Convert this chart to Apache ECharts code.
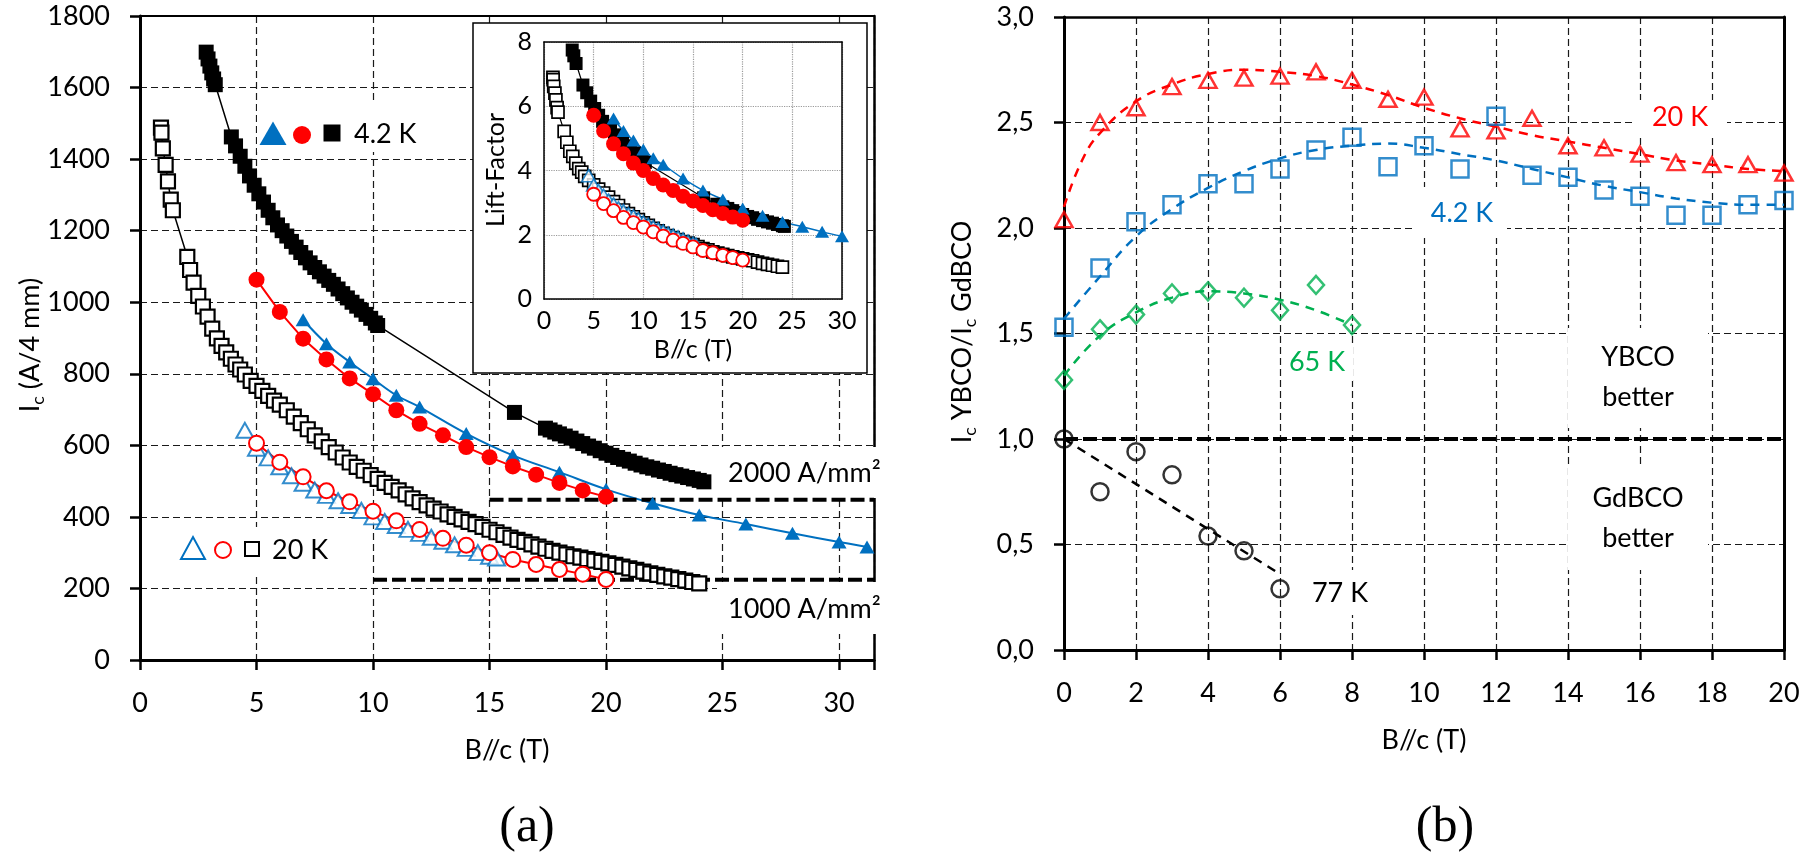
<!DOCTYPE html>
<html><head><meta charset="utf-8">
<script src="https://cdn.jsdelivr.net/npm/echarts@6/dist/echarts.min.js"></script>
<style>html,body{margin:0;padding:0;background:#fff}#c{width:1804px;height:858px}</style>
</head><body><div id="c"></div>
<script>
// ===== Panel (a): Ic (A/4 mm) vs B//c (T) =====
const ic42Square = [[2.84,1699],[2.92,1680],[3.0,1660],[3.08,1641],[3.16,1624],[3.23,1608],
 [3.92,1462],[4.1,1437],[4.3,1408],[4.5,1380],[4.7,1353],[4.9,1327],[5.1,1303],[5.3,1280],[5.5,1257],[5.7,1236],[5.9,1216],[6.1,1200],[6.3,1185],[6.5,1170],[6.7,1154],[6.9,1139],[7.1,1124],[7.3,1110],[7.5,1097],[7.7,1085],[7.9,1073],[8.1,1061],[8.3,1050],[8.5,1037],[8.7,1024],[8.9,1012],[9.1,1000],[9.3,989],[9.5,978],[9.7,966],[9.9,955],[10.1,942],[10.2,935],
 [16.07,692],
 [17.4,648],[17.6,643],[17.8,637],[18.0,632],[18.25,626],[18.5,620],[18.75,612],[19.0,605],[19.25,598],[19.5,592],[19.75,585],[20.0,578],[20.25,572],[20.5,566],[20.75,561],[21.0,556],[21.25,550],[21.5,545],[21.75,540],[22.0,536],[22.25,531],[22.5,527],[22.75,522],[23.0,518],[23.25,514],[23.5,510],[23.75,506],[24.0,502],[24.2,498]];
const ic20Square = [[0.9,1488],[0.92,1474],[0.98,1430],[1.1,1384],[1.2,1338],[1.32,1287],[1.41,1257],
 [2.03,1127],[2.15,1090],[2.3,1055],[2.5,1018],[2.7,988],[2.9,960],[3.1,926],[3.3,899],[3.5,878],[3.7,860],[3.9,842],[4.1,826],[4.3,812],[4.5,798],[4.75,780],[5.0,766],[5.25,752],[5.5,738],[5.75,725],[6.0,714],[6.3,698],[6.6,680],[6.9,662],[7.2,645],[7.5,628],[7.8,611],[8.1,595],[8.4,580],[8.7,566],[9.0,552],[9.3,540],[9.6,529],[9.9,517],[10.2,506],[10.5,495],[10.8,484],[11.1,474],[11.4,463],[11.7,452],[12.0,441],[12.3,432],[12.6,423],[12.9,415],[13.2,407],[13.5,400],[13.8,393],[14.1,386],[14.4,380],[14.7,372],[15.0,364],[15.3,357],[15.6,350],[15.9,342],[16.2,336],[16.5,330],[16.8,323],[17.1,317],[17.4,311],[17.7,305],[18.0,300],[18.3,295],[18.6,290],[18.9,286],[19.2,282],[19.5,278],[19.8,274],[20.1,270],[20.4,266],[20.7,261],[21.0,256],[21.3,252],[21.6,247],[21.9,242],[22.2,238],[22.5,234],[22.8,230],[23.1,226],[23.4,222],[23.7,218],[24.0,214]];
const ic42Tri = [[7,951],[8,884],[9,833],[10,786],[11,740],[12,707],[14,633],[16,572],[18,525],[20,477],[22,438],[24,405],[26,380],[28,354],[30,330],[31.2,316]];
const ic20Tri = [[4.5,642],[5,592],[5.5,565],[6,540],[6.5,515],[7,494],[7.5,475],[8,460],[8.5,445],[9,432],[9.5,418],[10,400],[10.5,387],[11,376],[11.5,365],[12,354],[12.5,343],[13,332],[13.5,322],[14,312],[14.5,300],[15,290],[15.3,285]];
const ic42Circ = [[5,1063],[6,973],[7,898],[8,840],[9,787],[10,743],[11,698],[12,660],[13,628],[14,595],[15,567],[16,541],[17,518],[18,495],[19,474],[20,456]];
const ic20Circ = [[5,606],[6,553],[7,512],[8,473],[9,442],[10,416],[11,389],[12,365],[13,340],[14,321],[15,300],[16,281],[17,267],[18,253],[19,240],[20,225]];
const jeLevels = [448, 224];        // Ic equivalent of 2000 and 1000 A/mm2
const jeStarts = [15, 10];
const jeLabels = ['2000 A/mm\u00B2', '1000 A/mm\u00B2'];
const icAxisMaxB = 31.5;

// ===== Inset: Lift-Factor =====
const lf42Square = [[2.84,7.75],[3.0,7.57],[3.23,7.33],[3.92,6.66],[4.3,6.42],[4.7,6.16],[5.1,5.93],[5.5,5.72],[5.9,5.53],[6.3,5.39],[6.7,5.25],[7.1,5.11],[7.5,4.99],[7.9,4.88],[8.3,4.77],[8.7,4.66],[9.1,4.55],[9.5,4.45],[9.9,4.34],[10.2,4.25],[16.07,3.15],[17.4,2.95],[18.0,2.87],[18.5,2.82],[19.0,2.75],[19.5,2.69],[20.0,2.63],[20.5,2.57],[21.0,2.53],[21.5,2.48],[22.0,2.44],[22.5,2.40],[23.0,2.36],[23.5,2.32],[24.0,2.28],[24.2,2.26]];
const lf20Square = [[0.9,6.90],[0.92,6.83],[0.98,6.62],[1.1,6.41],[1.2,6.20],[1.32,5.96],[1.41,5.82],[2.03,5.22],[2.3,4.88],[2.6,4.6],[2.9,4.44],[3.2,4.23],[3.5,4.06],[3.8,3.95],[4.1,3.82],[4.5,3.69],[5,3.55],[5.5,3.42],[6,3.30],[6.5,3.17],[7,3.03],[7.5,2.91],[8,2.77],[8.5,2.66],[9,2.56],[9.5,2.47],[10,2.37],[10.5,2.29],[11,2.20],[11.5,2.12],[12,2.04],[12.5,1.97],[13,1.91],[13.5,1.85],[14,1.79],[14.5,1.74],[15,1.69],[15.5,1.63],[16,1.57],[16.5,1.53],[17,1.47],[17.5,1.43],[18,1.39],[18.5,1.35],[19,1.31],[19.5,1.28],[20,1.25],[20.5,1.22],[21,1.19],[21.5,1.15],[22,1.11],[22.5,1.08],[23,1.05],[23.5,1.02],[24,0.99]];
const lf42Tri = [[7,5.62],[8,5.23],[9,4.93],[10,4.65],[11,4.38],[12,4.18],[14,3.75],[16,3.38],[18,3.10],[20,2.82],[22,2.59],[24,2.40],[26,2.25],[28,2.09],[30,1.95]];
const lf20Tri = [[4.5,3.84],[5,3.55],[5.5,3.38],[6,3.23],[6.5,3.08],[7,2.96],[7.5,2.84],[8,2.75],[8.5,2.66],[9,2.59],[9.5,2.50],[10,2.40],[10.5,2.32],[11,2.25],[11.5,2.19],[12,2.12],[12.5,2.05],[13,1.99],[13.5,1.93],[14,1.87],[14.5,1.80],[15,1.74],[15.3,1.71]];
const lf42Circ = [[5,5.72],[6,5.23],[7,4.83],[8,4.52],[9,4.23],[10,4.00],[11,3.75],[12,3.55],[13,3.38],[14,3.20],[15,3.05],[16,2.91],[17,2.78],[18,2.66],[19,2.55],[20,2.45]];
const lf20Circ = [[5,3.26],[6,2.97],[7,2.75],[8,2.54],[9,2.38],[10,2.24],[11,2.09],[12,1.96],[13,1.83],[14,1.73],[15,1.62],[16,1.51],[17,1.44],[18,1.36],[19,1.29],[20,1.21]];

// ===== Panel (b): Ic YBCO / Ic GdBCO =====
const ratioB = [0,1,2,3,4,5,6,7,8,9,10,11,12,13,14,15,16,17,18,19,20];
const ratio20K = [2.04,2.50,2.57,2.67,2.70,2.71,2.72,2.74,2.70,2.61,2.62,2.47,2.46,2.52,2.39,2.38,2.35,2.31,2.30,2.30,2.26];
const ratio42K = [1.53,1.81,2.03,2.11,2.21,2.21,2.28,2.37,2.43,2.29,2.39,2.28,2.53,2.25,2.24,2.18,2.15,2.06,2.06,2.11,2.13];
const ratio65K = [1.28,1.52,1.59,1.69,1.70,1.67,1.61,1.73,1.54];
const ratio77K = [1.00,0.75,0.94,0.83,0.54,0.47,0.29];
const trend20K = [[0,2.10],[0.5,2.32],[1,2.45],[2,2.60],[3,2.68],[4,2.73],[5,2.75],[6,2.74],[7,2.72],[8,2.68],[9,2.63],[10,2.57],[11,2.52],[12,2.48],[13,2.44],[14,2.41],[15,2.38],[16,2.35],[17,2.32],[18,2.30],[19,2.28],[20,2.27]];
const trend42K = [[0,1.57],[1,1.77],[2,1.96],[3,2.09],[4,2.19],[5,2.27],[6,2.33],[7,2.37],[8,2.39],[9,2.40],[10,2.38],[11,2.35],[12,2.32],[13,2.28],[14,2.24],[15,2.20],[16,2.17],[17,2.14],[18,2.12],[19,2.11],[20,2.11]];
const trend65K = [[0,1.30],[1,1.49],[2,1.60],[3,1.67],[4,1.70],[5,1.69],[6,1.66],[7,1.61],[8,1.54]];
const trend77K = [[0,1.00],[6,0.36]];
const parityLevel = 1.0;

// ===== styling =====
const F = 'Lato';
const BLUE = '#0070c0', RED = '#ff0000', GREEN = '#00b050';
const pairs = (ys) => ys.map((v,i) => [ratioB[i], v]);

const gridDash = {show:true, lineStyle:{type:[7,4], color:'#1a1a1a', width:1.2}};
function axisBase(o){
  return Object.assign({type:'value', axisLine:{show:true, onZero:false, lineStyle:{color:'#000', width:3}},
    axisTick:{show:true, inside:false, length:10, lineStyle:{color:'#000', width:2.5}},
    axisLabel:{show:true, color:'#000', fontFamily:F, fontSize:27, margin:30, formatter:(v)=>String(v)},
    splitLine:gridDash, z:0}, o);
}
function borderAxis(o, w){
  return Object.assign({type:'value', axisLine:{show:true, onZero:false, lineStyle:{color:'#000', width:w}},
    axisTick:{show:false}, axisLabel:{show:false}, splitLine:{show:false}}, o);
}
function insetAxis(o){
  return Object.assign({type:'value', z:3, axisLine:{show:true, onZero:false, lineStyle:{color:'#000', width:1.5}},
    axisTick:{show:false}, axisLabel:{show:true, color:'#000', fontFamily:F, fontSize:25, margin:9, formatter:(v)=>String(v)},
    splitLine:{show:true, lineStyle:{type:'dotted', color:'#9a9a9a', width:1.2}}}, o);
}
const txt = (x, y, text, size, color, extra) => Object.assign({type:'text', x, y, z:5,
  style:{text, fill:color||'#000', fontFamily:F, fontSize:size, align:'center', verticalAlign:'middle', textAlign:'center', textVerticalAlign:'middle'}}, extra||{});
const box = (x, y, w, h) => ({type:'rect', z:1, shape:{x, y, width:w, height:h}, style:{fill:'#fff'}});

function lineSeries(name, data, xi, yi, o){
  return Object.assign({name, type:'line', data, xAxisIndex:xi, yAxisIndex:yi, showAllSymbol:true,
    animation:false, emphasis:{disabled:true}, z:2}, o);
}

const series = [];
// panel (a)
series.push(lineSeries('ic20Square', ic20Square, 0, 0, {symbol:'rect', symbolSize:14,
  lineStyle:{color:'#000', width:1.5}, itemStyle:{color:'#fff', borderColor:'#000', borderWidth:2.2}}));
series.push(lineSeries('ic42Square', ic42Square, 0, 0, {symbol:'rect', symbolSize:15,
  lineStyle:{color:'#000', width:1.5}, itemStyle:{color:'#000'}}));
series.push({name:'ic20Tri', type:'scatter', data:ic20Tri, xAxisIndex:0, yAxisIndex:0, symbol:'triangle', symbolSize:[17,15],
  itemStyle:{color:'#fff', borderColor:BLUE, borderWidth:2}, z:2, animation:false});
series.push(lineSeries('ic42Tri', ic42Tri, 0, 0, {symbol:'triangle', symbolSize:[15,13], smooth:0.4,
  lineStyle:{color:BLUE, width:2}, itemStyle:{color:BLUE}}));
series.push(lineSeries('ic20Circ', ic20Circ, 0, 0, {symbol:'circle', symbolSize:15,
  lineStyle:{color:RED, width:2}, itemStyle:{color:'#fff', borderColor:RED, borderWidth:2}}));
series.push(lineSeries('ic42Circ', ic42Circ, 0, 0, {symbol:'circle', symbolSize:16,
  lineStyle:{color:RED, width:2}, itemStyle:{color:RED}}));
jeLevels.forEach((lv, i) => {
  series.push(lineSeries('je'+i, [[jeStarts[i], lv], [icAxisMaxB, lv]], 0, 0, {symbol:'none',
    lineStyle:{color:'#000', width:4, type:[14,5]}}));
});
// inset
series.push(lineSeries('lf20Square', lf20Square, 4, 4, {z:4, symbol:'rect', symbolSize:12,
  lineStyle:{color:'#000', width:1.2}, itemStyle:{color:'#fff', borderColor:'#000', borderWidth:1.7}}));
series.push(lineSeries('lf42Square', lf42Square, 4, 4, {z:4, symbol:'rect', symbolSize:13,
  lineStyle:{color:'#000', width:1.2}, itemStyle:{color:'#000'}}));
series.push({name:'lf20Tri', type:'scatter', data:lf20Tri, xAxisIndex:4, yAxisIndex:4, symbol:'triangle', symbolSize:[14,12],
  itemStyle:{color:'#fff', borderColor:BLUE, borderWidth:1.6}, z:4, animation:false});
series.push(lineSeries('lf42Tri', lf42Tri, 4, 4, {z:4, symbol:'triangle', symbolSize:[14,12], smooth:0.4,
  lineStyle:{color:BLUE, width:1.5}, itemStyle:{color:BLUE}}));
series.push(lineSeries('lf20Circ', lf20Circ, 4, 4, {z:4, symbol:'circle', symbolSize:13,
  lineStyle:{color:RED, width:1.5}, itemStyle:{color:'#fff', borderColor:RED, borderWidth:1.8}}));
series.push(lineSeries('lf42Circ', lf42Circ, 4, 4, {z:4, symbol:'circle', symbolSize:15,
  lineStyle:{color:RED, width:1.5}, itemStyle:{color:RED}}));
// panel (b)
const trendStyle = (c) => ({symbol:'none', smooth:0.45, lineStyle:{color:c, width:2.5, type:[9,7]}});
series.push(lineSeries('trend20K', trend20K, 2, 2, trendStyle(RED)));
series.push(lineSeries('trend42K', trend42K, 2, 2, trendStyle(BLUE)));
series.push(lineSeries('trend65K', trend65K, 2, 2, trendStyle(GREEN)));
series.push(lineSeries('trend77K', trend77K, 2, 2, Object.assign(trendStyle('#000'), {smooth:false})));
series.push(lineSeries('parity', [[0, parityLevel], [20, parityLevel]], 2, 2, {symbol:'none',
  lineStyle:{color:'#000', width:4, type:[14,5]}}));
const openPts = (name, ys, sym, size, c) => ({name, type:'scatter', data:pairs(ys), xAxisIndex:2, yAxisIndex:2,
  symbol:sym, symbolSize:size, itemStyle:{color:'rgba(255,255,255,0)', borderColor:c, borderWidth:2.5}, z:3, animation:false});
series.push(openPts('r20K', ratio20K, 'triangle', [17,15], RED));
series.push(openPts('r42K', ratio42K, 'rect', 17, BLUE));
series.push(openPts('r65K', ratio65K, 'diamond', [16,18], GREEN));
series.push(openPts('r77K', ratio77K, 'circle', 17, '#000'));

// graphics: texts, legends, boxes
const sub = (size) => ({fontSize:size*0.66, fontFamily:F, fill:'#000', padding:[size*0.6,0,0,0]});
const main = (size) => ({fontSize:size, fontFamily:F, fill:'#000'});
const graphics = [
  // inset frame
  {type:'rect', z:1, shape:{x:473, y:23, width:394, height:350}, style:{fill:'#fff', stroke:'#000', lineWidth:1.5}},
  // white label boxes
  box(257, 100, 170, 52), box(172, 527, 170, 46),
  box(717, 447, 188, 51), box(717, 582, 188, 52),
  box(1633, 100, 94, 35), box(1415, 187, 92, 51), box(1283, 345, 70, 36), box(1305, 570, 70, 45),
  box(1568, 328, 140, 100), box(1568, 465, 140, 105),
  // legend (a) 4.2 K
  {type:'polygon', z:5, shape:{points:[[259.5,145],[286.5,145],[273,121.5]]}, style:{fill:BLUE}},
  {type:'circle', z:5, shape:{cx:302, cy:135, r:9}, style:{fill:RED}},
  {type:'rect', z:5, shape:{x:323.5, y:124.5, width:17, height:17}, style:{fill:'#000'}},
  {type:'text', x:354, y:134, z:5, style:{text:'4.2 K', fill:'#000', fontFamily:F, fontSize:27, align:'left', verticalAlign:'middle'}},
  // legend (a) 20 K
  {type:'polygon', z:5, shape:{points:[[181,559],[205,559],[193,537]]}, style:{fill:'#fff', stroke:BLUE, lineWidth:2}},
  {type:'circle', z:5, shape:{cx:223, cy:550, r:8}, style:{fill:'#fff', stroke:RED, lineWidth:2}},
  {type:'rect', z:5, shape:{x:245, y:542, width:14, height:14}, style:{fill:'#fff', stroke:'#000', lineWidth:2}},
  {type:'text', x:272, y:550, z:5, style:{text:'20 K', fill:'#000', fontFamily:F, fontSize:27, align:'left', verticalAlign:'middle'}},
  // Je labels
  {type:'text', x:728, y:473, z:5, style:{text:jeLabels[0], fill:'#000', fontFamily:F, fontSize:27, align:'left', verticalAlign:'middle'}},
  {type:'text', x:728, y:609, z:5, style:{text:jeLabels[1], fill:'#000', fontFamily:F, fontSize:27, align:'left', verticalAlign:'middle'}},
  // axis titles (a)
  txt(507, 750, 'B//c (T)', 27),
  {type:'text', x:30, y:345, rotation:Math.PI/2, z:5,
   style:{text:'{m|I}{s|c}{m| (A/4 mm)}', align:'center', verticalAlign:'middle', rich:{m:main(27), s:sub(27)}}},
  // inset titles
  txt(693, 350, 'B//c (T)', 25),
  txt(496, 170, 'Lift-Factor', 25, '#000', {rotation:Math.PI/2}),
  // panel (b) annotations
  txt(1680, 117, '20 K', 27, RED),
  txt(1462, 213, '4.2 K', 27, BLUE),
  txt(1317, 362, '65 K', 27, GREEN),
  txt(1340, 593, '77 K', 27, '#000'),
  txt(1638, 357, 'YBCO', 27), txt(1638, 397, 'better', 27),
  txt(1638, 498, 'GdBCO', 27), txt(1638, 538, 'better', 27),
  txt(1424, 740, 'B//c (T)', 27),
  {type:'text', x:962, y:332, rotation:Math.PI/2, z:5,
   style:{text:'{m|I}{s|c}{m| YBCO/I}{s|c}{m| GdBCO}', align:'center', verticalAlign:'middle', rich:{m:main(27), s:sub(27)}}},
  // panel captions
  {type:'text', x:527, y:828, z:5, style:{text:'(a)', fill:'#000', fontFamily:'Liberation Serif', fontSize:50, align:'center', verticalAlign:'middle'}},
  {type:'text', x:1445, y:828, z:5, style:{text:'(b)', fill:'#000', fontFamily:'Liberation Serif', fontSize:50, align:'center', verticalAlign:'middle'}}
];

const option = {
  backgroundColor:'#fff',
  animation:false,
  grid:[
    {left:140, top:16, width:734, height:644, outerBoundsMode:'none'},
    {left:1064, top:17, width:720, height:633, outerBoundsMode:'none'},
    {left:544, top:42, width:298, height:257, outerBoundsMode:'none', z:2}
  ],
  xAxis:[
    axisBase({gridIndex:0, position:'bottom', min:0, max:icAxisMaxB, interval:5,
      axisLabel:{color:'#000', fontFamily:F, fontSize:27, margin:30, formatter:(v)=> (v % 5 === 0 ? String(v) : '')}}),
    borderAxis({gridIndex:0, position:'top', min:0, max:icAxisMaxB}, 2),
    axisBase({gridIndex:1, position:'bottom', min:0, max:20, interval:2}),
    borderAxis({gridIndex:1, position:'top', min:0, max:20}, 2.5),
    insetAxis({gridIndex:2, position:'bottom', min:0, max:30, interval:5}),
    borderAxis({gridIndex:2, position:'top', min:0, max:30, z:3}, 1.5)
  ],
  yAxis:[
    axisBase({gridIndex:0, position:'left', min:0, max:1800, interval:200}),
    borderAxis({gridIndex:0, position:'right', min:0, max:1800}, 2.5),
    axisBase({gridIndex:1, position:'left', min:0, max:3, interval:0.5,
      axisLabel:{color:'#000', fontFamily:F, fontSize:27, margin:30, formatter:(v)=> v.toFixed(1).replace('.', ',')}}),
    borderAxis({gridIndex:1, position:'right', min:0, max:3}, 3),
    insetAxis({gridIndex:2, position:'left', min:0, max:8, interval:2, axisLabel:{color:'#000', fontFamily:F, fontSize:25, margin:12, formatter:(v)=>String(v)}}),
    borderAxis({gridIndex:2, position:'right', min:0, max:8, z:3}, 1.5)
  ],
  series,
  graphic:{elements:graphics}
};

const chart = echarts.init(document.getElementById('c'), null, {renderer:'canvas', width:1804, height:858});
chart.setOption(option);
</script></body></html>
